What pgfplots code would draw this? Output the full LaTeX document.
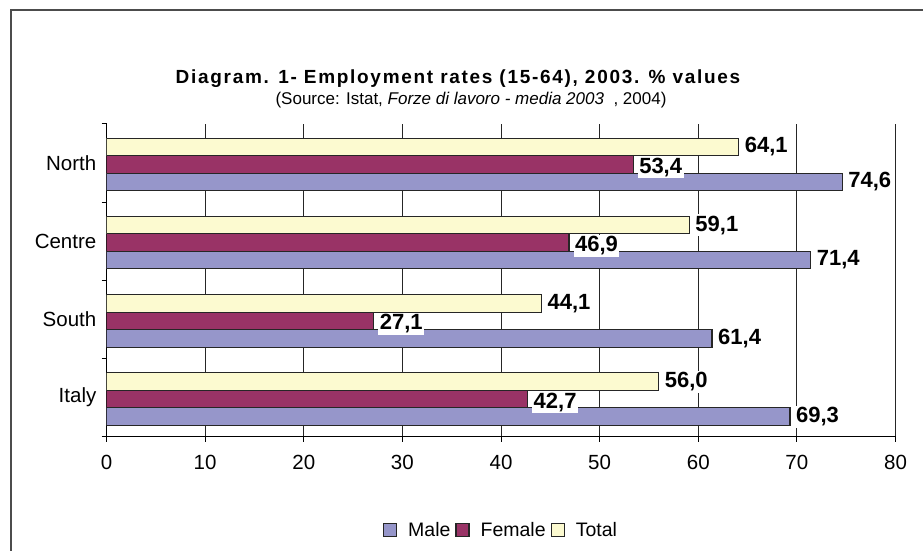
\documentclass[border=0pt]{standalone}
\usepackage{fontspec}
\setmainfont{Liberation Sans}
\newfontfamily\titlefont[LetterSpace=9]{Liberation Sans}
\usepackage{pgfplots}
\pgfplotsset{compat=1.18}

\definecolor{male}{RGB}{150,150,202}
\definecolor{female}{RGB}{153,51,102}
\definecolor{total}{RGB}{252,250,208}

% values in %, order: Italy, South, Centre, North
\pgfplotstableread{
cat male female total
0 69.3 42.7 56.0
1 61.4 27.1 44.1
2 71.4 46.9 59.1
3 74.6 53.4 64.1
}\rates

\begin{document}
\begin{tikzpicture}[x=1pt,y=1pt]
\useasboundingbox (0,0) rectangle (923,551);
\draw[black!70, line width=1.2pt] (11,-2) -- (11,541) -- (925,541);
\node[font=\titlefont\bfseries\fontsize{19}{22}\selectfont] at (458,472)
  {Diagram. 1- Employment rates (15-64), 2003. \% values};
\node[font=\fontsize{17}{20}\selectfont] at (471,451)
  {(Source: Istat, \textit{Forze di lavoro - media 2003}\ \ , 2004)};
\begin{axis}[
    at={(108,146)}, anchor=south west,
    scale only axis, width=789pt, height=313pt,
    xmin=0, xmax=80, ymin=-0.5, ymax=3.5,
    xtick={0,10,...,80},
    ytick={0,1,2,3},
    yticklabels={Italy,South,Centre,North},
    minor ytick={-0.5,0.5,1.5,2.5,3.5},
    major y tick style={draw=none},
    tick align=outside,
    major tick length=5pt, minor tick length=5pt,
    tick style={black, line width=0.8pt},
    axis x line*=bottom, axis y line*=left,
    axis line style={black, line width=0.8pt, -},
    xmajorgrids=true,
    grid style={black!85, line width=0.8pt},
    ticklabel style={font=\fontsize{20.5}{24}\selectfont},
    /pgf/number format/assume math mode=true,
    xticklabel style={inner sep=0pt, yshift=-13pt},
    yticklabel style={inner sep=0pt, xshift=-5pt},
    xbar, bar width=17.5pt,
    every axis plot/.append style={draw=black!85, line width=1.2pt},
    nodes near coords={\pgfmathprintnumber[fixed,fixed zerofill,precision=1,use comma]{\pgfplotspointmeta}},
    nodes near coords align=horizontal,
    every node near coord/.append style={font=\bfseries\fontsize{22}{24}\selectfont,
      fill=white, inner sep=1.5pt, xshift=4pt, text=black},
    legend style={at={(0.5,-0.3)}, anchor=center, draw=none,
      legend columns=-1, font=\fontsize{19.5}{22}\selectfont,
      /tikz/every even column/.append style={column sep=3pt},
      /tikz/every odd column/.append style={column sep=9pt}},
    legend image code/.code={\draw[#1, line width=1.2pt] (0pt,-6pt) rectangle (13pt,7pt);},
]
\addlegendimage{fill=male, draw=black!85}
\addlegendimage{fill=female, draw=black!85}
\addlegendimage{fill=total, draw=black!85}
\addplot[fill=female, bar shift=-1.5pt, forget plot,
  every node near coord/.append style={yshift=-3pt}]
  table[x=female, y=cat] {\rates};
\addplot[fill=male, bar shift=-19pt, forget plot] table[x=male, y=cat] {\rates};
\addplot[fill=total, bar shift=16pt, forget plot] table[x=total, y=cat] {\rates};
\legend{Male,Female,Total}
\end{axis}
\end{tikzpicture}
\end{document}
